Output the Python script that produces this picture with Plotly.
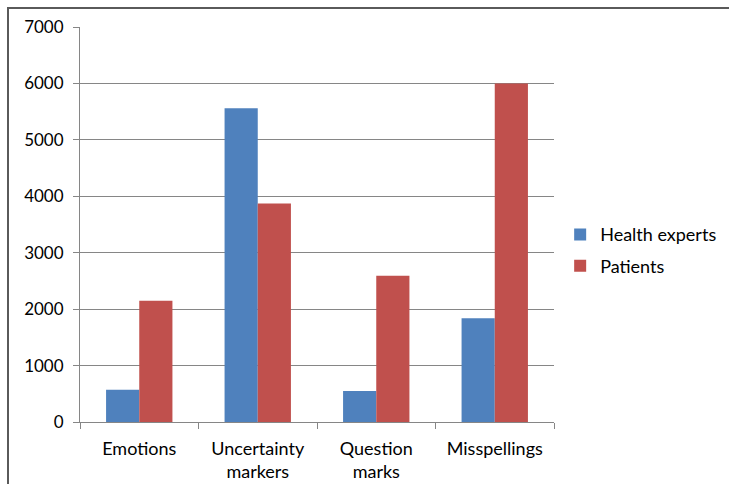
import plotly.graph_objects as go

categories = ["Emotions", "Uncertainty<br>markers", "Question<br>marks", "Misspellings"]
health_experts = [570, 5560, 550, 1840]
patients = [2150, 3870, 2590, 6000]
y_ticks = [0, 1000, 2000, 3000, 4000, 5000, 6000, 7000]

W, H = 729, 484
ml, mr, mt, mb = 80, 175, 27, 62
pw, ph = W - ml - mr, H - mt - mb

fig = go.Figure()
fig.add_trace(go.Bar(name="Health experts", x=categories, y=health_experts,
                     legendgroup="a",
                     marker=dict(color="#4F81BD", line=dict(width=0))))
fig.add_trace(go.Bar(name="Patients", x=categories, y=patients,
                     legendgroup="b",
                     marker=dict(color="#C0504D", line=dict(width=0))))

fam = "Lato, Noto Sans, sans-serif"
font = dict(family=fam, size=18, color="#000000")

fig.update_layout(
    width=W, height=H,
    margin=dict(l=ml, r=mr, t=mt, b=mb, autoexpand=False),
    paper_bgcolor="white", plot_bgcolor="white",
    barmode="group", bargap=0.44, bargroupgap=0,
    font=font,
    showlegend=True,
    legend=dict(x=1.013, y=0.435, xanchor="left", yanchor="middle",
                font=dict(family=fam, size=18),
                itemwidth=30, tracegroupgap=5, bgcolor="rgba(0,0,0,0)"),
    xaxis=dict(showline=True, linecolor="#868686", linewidth=1,
               ticks="outside", tickson="boundaries", ticklen=6,
               tickcolor="#868686", showgrid=False, automargin=False,
               ticklabelstandoff=10,
               tickfont=dict(family=fam, size=18)),
    yaxis=dict(range=[0, 7000], tickvals=y_ticks, showline=True,
               linecolor="#868686", linewidth=1, ticks="outside",
               ticklen=6, tickcolor="#868686", showgrid=True,
               gridcolor="#868686", gridwidth=1, zeroline=False,
               automargin=False, ticklabelstandoff=6,
               tickfont=dict(family=fam, size=17)),
)

# Outer frame around the chart area
fig.add_shape(type="rect", xref="paper", yref="paper",
              x0=(8 - ml) / pw, x1=(W + 20 - ml) / pw,
              y0=-(H + 20 - mt - ph) / ph, y1=1 + (mt - 8) / ph,
              line=dict(color="#5a5a5a", width=2), layer="below")

fig.write_html("out.html")
